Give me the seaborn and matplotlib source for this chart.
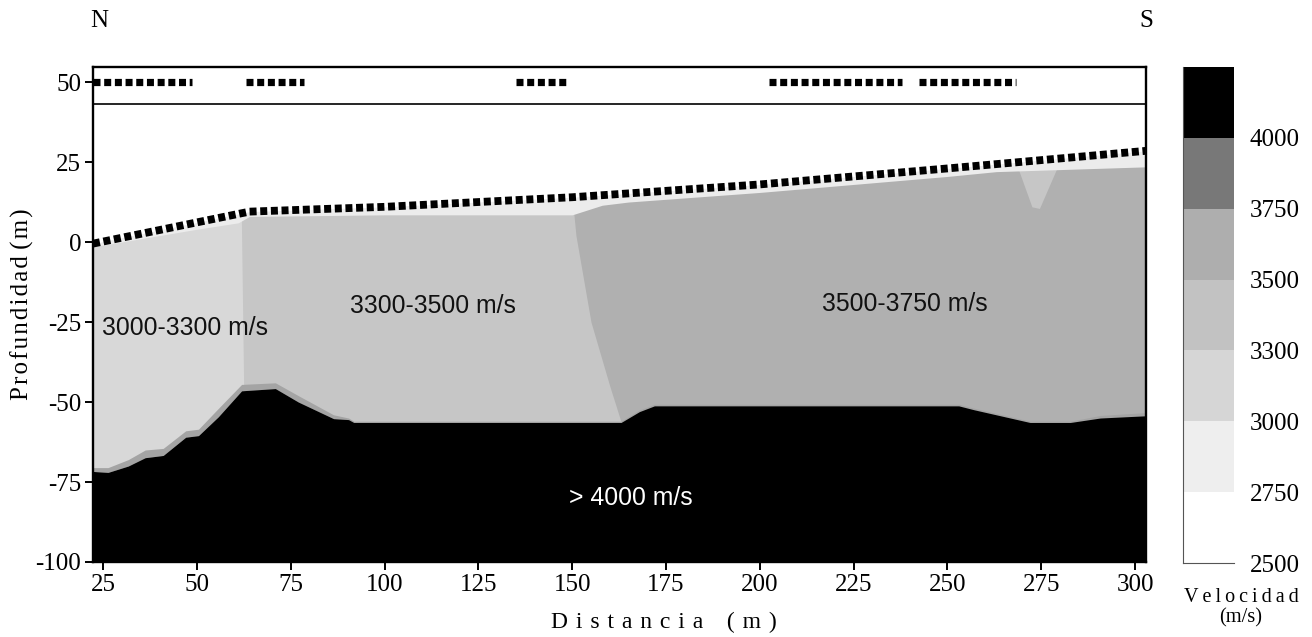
import numpy as np
import matplotlib
matplotlib.use('Agg')
import matplotlib.pyplot as plt
import seaborn as sns
from matplotlib.colors import ListedColormap

# Surface profile (dotted line)
surface_x = [22.3, 64, 100, 150, 200, 250, 302.9]
surface_y = [-0.5, 9.5, 11, 14, 18, 23, 28.5]

# Top of the refractor body, under the pale band
body_x = [22.3, 50, 61, 64, 100, 150, 158, 165, 200, 250, 263, 302.9]
body_y = [-1.5, 4, 6, 8, 8.5, 8.5, 11.5, 12.5, 15.5, 20.5, 22, 23.5]

# Layer boundaries
boundary1_x = [61.5, 61.8, 62.5]
boundary1_y = [35, 10, -50]
boundary2_x = [149, 150, 151, 155, 160, 163.5]
boundary2_y = [35, 14, 2, -25, -45, -58]

# Top of the >4000 m/s layer
rock_x = [22.3, 26.3, 31.7, 36.2, 41, 47, 50.4, 55.7, 61.9, 70.9, 77, 86.4, 90.4, 91.8,
          163, 167.9, 171.9, 253, 257, 272, 282.7, 290.7, 302.9]
rock_y = [-71.7, -72, -70, -67.4, -66.7, -61, -60.5, -54.6, -46.5, -45.8, -50, -55.2, -55.5, -56.4,
          -56.4, -53, -51.2, -51.2, -52.4, -56.4, -56.4, -55, -54.3]
halo_y = [-70.5, -70.5, -68, -65, -64.5, -59, -58.5, -52, -44.5, -44, -48, -54, -55, -56,
          -56, -52.5, -50.7, -50.7, -51.9, -56, -56, -54.2, -53.3]

# Pale notch near 272 m
notch_x = [268.5, 272.5, 274.5, 279.5]
notch_top = [24, 24, 24, 24]
notch_y = [24, 11, 10.5, 24]

# Geophone spreads along the top
spread_start = [22.3, 63, 135, 202.5, 242.5]
spread_end = [48.7, 78.5, 148.5, 238, 268.2]

xticks = [25, 50, 75, 100, 125, 150, 175, 200, 225, 250, 275, 300]
yticks = [50, 25, 0, -25, -50, -75, -100]

cbar_labels = [4000, 3750, 3500, 3300, 3000, 2750, 2500]
cbar_colors = ['#000000', '#787878', '#aeaeae', '#c2c2c2', '#d6d6d6', '#eeeeee', '#ffffff']

c3000 = '#d8d8d8'
c3300 = '#c6c6c6'
c3500 = '#b0b0b0'


def tracked(text, sep):
    # the original labels are letter-spaced, matplotlib has no tracking option
    return sep.join(text)


sns.set_style('ticks')
plt.rcParams['font.family'] = ['Liberation Serif', 'DejaVu Serif']

W, H = 1312, 637
fig = plt.figure(figsize=(W / 100, H / 100), dpi=100)
ax = fig.add_axes([93 / W, 1 - 562 / H, (1146 - 93) / W, (562 - 67) / H])
xmin, xmax, ymin, ymax = 22.3, 302.9, -100, 54.7

# Layers, painted from the back
ax.axvspan(xmin, xmax, color=c3000, lw=0)
ax.fill_betweenx(boundary1_y + [ymin], boundary1_x + [boundary1_x[-1]], xmax, color=c3300, lw=0)
ax.fill_betweenx(boundary2_y + [ymin], boundary2_x + [boundary2_x[-1]], xmax, color=c3500, lw=0)
ax.fill_between(notch_x, notch_y, notch_top, color=c3300, lw=0)
ax.fill_between(body_x, body_y, ymax, color='#ececec', lw=0)
ax.fill_between(surface_x, surface_y, ymax, color='white', lw=0)
ax.fill_between(rock_x, rock_y, halo_y, color='#a4a4a4', lw=0)
ax.fill_between(rock_x, rock_y, ymin, color='black', lw=0)

# Surface and spreads
sns.lineplot(x=surface_x, y=surface_y, ax=ax, color='black', lw=5.6, estimator=None,
             linestyle=(0, (0.9, 0.47)), dash_capstyle='butt')
for x0, x1 in zip(spread_start, spread_end):
    sns.lineplot(x=[x0, x1], y=[50, 50], ax=ax, color='black', lw=5.2, estimator=None,
                 linestyle=(0, (0.97, 0.51)), dash_capstyle='butt')
ax.axhline(43, color='black', lw=1.2)

ax.set_xlim(xmin, xmax)
ax.set_ylim(ymin, ymax)
ax.set_xticks(xticks)
ax.set_xticklabels([str(v) for v in xticks])
ax.set_yticks(yticks)
ax.set_yticklabels([str(v) for v in yticks])
ax.tick_params(length=6, width=1.4, labelsize=18, color='black', labelcolor='black', pad=2.5)
ax.set_xlabel(tracked('Distancia', ' \u200a') + '\u2003' + tracked('(m)', ' \u200a'),
              fontsize=17, color='black', va='top')
ax.xaxis.set_label_coords(0.542, -0.101)
ax.set_ylabel(tracked('Profundidad', '\u200a') + ' ' + tracked('(m)', '\u200a'), fontsize=18, color='black', va='bottom')
ax.yaxis.set_label_coords(-0.056, 0.521)
for s in ax.spines.values():
    s.set_linewidth(1.7)
    s.set_color('black')
    s.set_zorder(5)

# Velocity labels
sans = ['Liberation Sans', 'DejaVu Sans']
ax.text(46.7, -27, '3000-3300 m/s', family=sans, fontsize=17.8, ha='center', va='center', color='#111111')
ax.text(113, -20, '3300-3500 m/s', family=sans, fontsize=17.8, ha='center', va='center', color='#111111')
ax.text(238.6, -19.5, '3500-3750 m/s', family=sans, fontsize=17.8, ha='center', va='center', color='#111111')
ax.text(165.5, -80, '> 4000 m/s', family=sans, fontsize=17.8, ha='center', va='center', color='white')

fig.text(99 / W, 1 - 21 / H, 'N', fontsize=18, ha='center', va='center', color='black')
fig.text(1146 / W, 1 - 21 / H, 'S', fontsize=18, ha='center', va='center', color='black')

# Colour scale
cax = fig.add_axes([1183 / W, 1 - 563 / H, 51 / W, 496 / H])
levels = np.arange(len(cbar_colors)).reshape(-1, 1)
sns.heatmap(levels, ax=cax, cmap=ListedColormap(cbar_colors), cbar=False,
            xticklabels=False, yticklabels=False, vmin=-0.5, vmax=len(cbar_colors) - 0.5)
cax.yaxis.tick_right()
cax.set_yticks(np.arange(1, len(cbar_labels) + 1))
cax.set_yticklabels([str(v) for v in cbar_labels], rotation=0)
cax.tick_params(axis='y', length=0, labelsize=18, pad=11.5, labelcolor='black')
cax.set_xlim(0, 1)
for name in ['left', 'bottom']:
    cax.spines[name].set_visible(True)
    cax.spines[name].set_color('#555555')
    cax.spines[name].set_linewidth(0.8)

fig.text(1241 / W, 1 - 597 / H, tracked('Velocidad', '\u2009'), fontsize=14.5, ha='center', va='center', color='black')
fig.text(1241 / W, 1 - 618 / H, '(m/s)', fontsize=14.7, ha='center', va='center', color='black')

fig.savefig('out.png', dpi=100)
